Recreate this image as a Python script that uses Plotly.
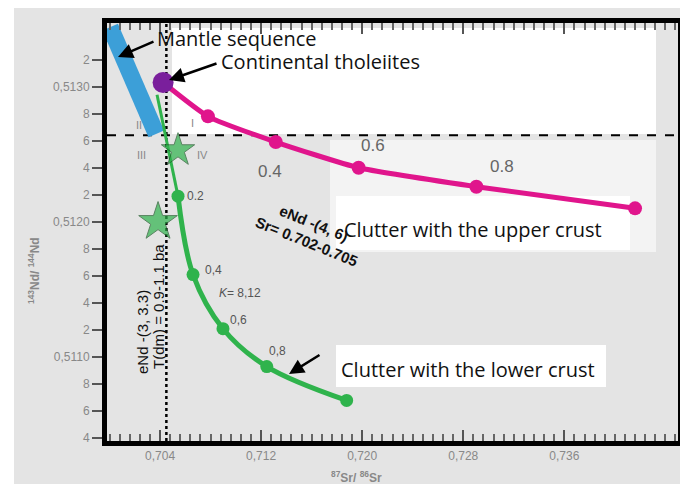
import plotly.graph_objects as go

# ---------------- data ----------------
mantle_sr = [0.70005, 0.70370]
mantle_nd = [0.51344, 0.51265]

tholeiite_sr = [0.70424]
tholeiite_nd = [0.51303]

upper_sr = [0.70424, 0.70779, 0.71316, 0.71972, 0.72904, 0.74160]
upper_nd = [0.51303, 0.51278, 0.51259, 0.51240, 0.51226, 0.51210]
upper_labels = ["", "", "0.4", "0.6", "0.8", ""]

lower_sr = [0.70376, 0.70542, 0.70661, 0.70898, 0.71245, 0.71877]
lower_nd = [0.51294, 0.51219, 0.51161, 0.51121, 0.51093, 0.51068]
lower_labels = ["", "0.2", "0,4", "0,6", "0,8", ""]

star_sr = [0.70542, 0.70384]
star_nd = [0.51253, 0.51200]

chur_nd = 0.51264
bulk_sr = 0.7045

x_tickvals = [0.704, 0.712, 0.720, 0.728, 0.736]
x_ticktext = ["0,704", "0,712", "0,720", "0,728", "0,736"]
y_tickvals = [0.5104, 0.5106, 0.5108, 0.5110, 0.5112, 0.5114, 0.5116, 0.5118,
              0.5120, 0.5122, 0.5124, 0.5126, 0.5128, 0.5130, 0.5132]
y_ticktext = ["4", "6", "8", "0,5110", "2", "4", "6", "8",
              "0,5120", "2", "4", "6", "8", "0,5130", "2"]

# ---------------- layout helpers ----------------
# page body has an 8px margin, so the figure is 16px smaller than the window
OFF = 8
W, H = 688 - 2 * OFF, 492 - 2 * OFF
L, R, T, B = 107, 678, 23, 441      # plot area in window pixels


def px(x, y):
    return (x - L) / (R - L), (B - y) / (B - T)


GREEN = "#2fb34c"
MAGENTA = "#e0158c"
PURPLE = "#7a1f9c"
BLUE = "#3c9fd8"
GRAY = "#7a7a7a"
TXT = "Open Sans"

fig = go.Figure()

# mantle sequence band
fig.add_trace(go.Scatter(x=mantle_sr, y=mantle_nd, mode="lines",
                         line=dict(color=BLUE, width=17), showlegend=False,
                         hoverinfo="skip"))
# lower crust curve (thin upper part + thick curve)
fig.add_trace(go.Scatter(x=lower_sr[:2], y=lower_nd[:2], mode="lines",
                         line=dict(color=GREEN, width=3), showlegend=False))
fig.add_trace(go.Scatter(x=lower_sr[1:], y=lower_nd[1:], mode="lines+markers",
                         line=dict(color=GREEN, width=5, shape="spline"),
                         marker=dict(color=GREEN, size=13), showlegend=False))
# upper crust curve
fig.add_trace(go.Scatter(x=upper_sr, y=upper_nd, mode="lines",
                         line=dict(color=MAGENTA, width=5, shape="spline", smoothing=0.5),
                         showlegend=False))
fig.add_trace(go.Scatter(x=upper_sr[1:], y=upper_nd[1:], mode="markers",
                         marker=dict(color=MAGENTA, size=14), showlegend=False))
# continental tholeiites
fig.add_trace(go.Scatter(x=tholeiite_sr, y=tholeiite_nd, mode="markers",
                         marker=dict(color=PURPLE, size=21), showlegend=False))
# stars
fig.add_trace(go.Scatter(x=star_sr, y=star_nd, mode="markers",
                         marker=dict(symbol="star", color=GREEN, size=[25, 29],
                                     line=dict(color="#1f5a2a", width=1)),
                         showlegend=False))

shapes = []
# scanned page background
x0, y0 = px(14, 8)
x1, y1 = px(700, 500)
shapes.append(dict(type="rect", xref="paper", yref="paper", x0=x0, y0=y1, x1=x1, y1=y0,
                   fillcolor="#e4e4e4", line=dict(width=0), layer="below"))
# white boxes
for (a, b, c, d, op) in [(172, 28, 656, 134, 1.0), (330, 140, 656, 252, 0.55),
                         (336, 196, 630, 250, 0.95), (336, 345, 606, 387, 1.0)]:
    xa, ya = px(a, b)
    xb, yb = px(c, d)
    shapes.append(dict(type="rect", xref="paper", yref="paper", x0=xa, y0=yb, x1=xb, y1=ya,
                       fillcolor="white", opacity=op, line=dict(width=0), layer="below"))
# CHUR / bulk earth reference lines
shapes.append(dict(type="line", xref="paper", yref="y", x0=0, x1=1, y0=chur_nd, y1=chur_nd,
                   line=dict(color="black", width=2, dash="dash"), layer="below"))
shapes.append(dict(type="line", xref="x", yref="paper", x0=bulk_sr, x1=bulk_sr, y0=0, y1=1,
                   line=dict(color="black", width=2.5, dash="dot"), layer="below"))

ann = []


def text_at(x, y, s, size=12, color=GRAY, angle=0, family=TXT, xanchor="center", bold=False):
    xp, yp = px(x, y)
    ann.append(dict(xref="paper", yref="paper", x=xp, y=yp, text=("<b>%s</b>" % s) if bold else s,
                    showarrow=False, textangle=angle, xanchor=xanchor, yanchor="middle",
                    font=dict(size=size, color=color, family=family)))


def arrow(tx, ty, fx, fy):
    xp, yp = px(tx, ty)
    ann.append(dict(xref="paper", yref="paper", x=xp, y=yp, text="", showarrow=True,
                    ax=fx - tx, ay=fy - ty, arrowhead=2, arrowsize=1.2, arrowwidth=2.5,
                    arrowcolor="black"))


text_at(155, 39, "Mantle sequence", size=20, color="#111", xanchor="left")
arrow(118, 57, 155, 41)
text_at(219, 61, "Continental tholeiites", size=20, color="#111", xanchor="left")
arrow(169, 80, 218, 63)
text_at(342, 229, "Clutter with the upper crust", size=20, color="#111", xanchor="left")
text_at(339, 369, "Clutter with the lower crust", size=20, color="#111", xanchor="left")
arrow(289, 374, 321, 354)

# mixing-proportion labels
for sr, nd, lab, dx, dy in zip(upper_sr, upper_nd, upper_labels,
                               [0, 0, -6, 14, 26, 0], [0, 0, 29, -22, -20, 0]):
    if lab:
        ann.append(dict(x=sr, y=nd, text=lab, showarrow=False, xshift=dx, yshift=-dy,
                        font=dict(size=17, color="#666", family="Liberation Sans")))
for sr, nd, lab, dx, dy in zip(lower_sr, lower_nd, lower_labels,
                               [0, 17, 20, 16, 11, 0], [0, 0, -5, -9, -16, 0]):
    if lab:
        ann.append(dict(x=sr, y=nd, text=lab, showarrow=False, xshift=dx, yshift=-dy,
                        font=dict(size=12, color="#555", family="Liberation Sans")))
text_at(240, 293, "<i>K</i>= 8,12", size=12, color="#555", family="Liberation Sans")

# quadrant numerals
text_at(139, 125, "II", size=11, color="#888", family="Liberation Sans")
text_at(192, 123, "I", size=11, color="#888", family="Liberation Sans")
text_at(141, 155, "III", size=11, color="#888", family="Liberation Sans")
text_at(202, 155, "IV", size=11, color="#888", family="Liberation Sans")

# rotated text
text_at(142, 332, "eNd -(3, 3.3)", size=15, color="#111", angle=-90, family="Liberation Sans")
text_at(158, 307, "T(dm) = 0.9-1.1 ba", size=15, color="#111", angle=-90, family="Liberation Sans")
text_at(310, 232, "eNd -(4, 6)<br>Sr= 0.702-0.705", size=15, color="#111", angle=22,
        family="Liberation Sans", bold=True)

# axis titles
text_at(34, 271, "<sup>143</sup>Nd/ <sup>144</sup>Nd", size=12, color="#888", angle=-90,
        family="Liberation Sans", bold=True)
text_at(356, 477, "<sup>87</sup>Sr/ <sup>86</sup>Sr", size=12, color="#888",
        family="Liberation Sans", bold=True)

fig.update_layout(
    width=W, height=H,
    margin=dict(l=L - OFF, r=W - (R - OFF), t=T - OFF, b=H - (B - OFF), pad=0,
                autoexpand=False),
    paper_bgcolor="white", plot_bgcolor="rgba(0,0,0,0)",
    shapes=shapes, annotations=ann, showlegend=False,
    xaxis=dict(range=[0.6998, 0.7450], showgrid=False, zeroline=False, automargin=False,
               showline=True, linewidth=5, linecolor="black", mirror="allticks",
               tickmode="array", tickvals=x_tickvals, ticktext=x_ticktext,
               ticks="inside", ticklen=11, tickwidth=2, tickcolor="#555",
               tickfont=dict(size=12, color="#888", family="Liberation Sans"),
               minor=dict(tickmode="linear", tick0=0.704, dtick=0.0008, ticks="inside",
                          ticklen=7, tickwidth=1.5, tickcolor="#666")),
    yaxis=dict(range=[0.51038, 0.51347], showgrid=False, zeroline=False, automargin=False,
               showline=True, linewidth=5, linecolor="black", mirror="allticks",
               tickmode="array", tickvals=y_tickvals, ticktext=y_ticktext,
               ticks="outside", ticklen=10, tickwidth=2, tickcolor="#555",
               tickfont=dict(size=12, color="#888", family="Liberation Sans")),
)

fig.write_html("out.html")
